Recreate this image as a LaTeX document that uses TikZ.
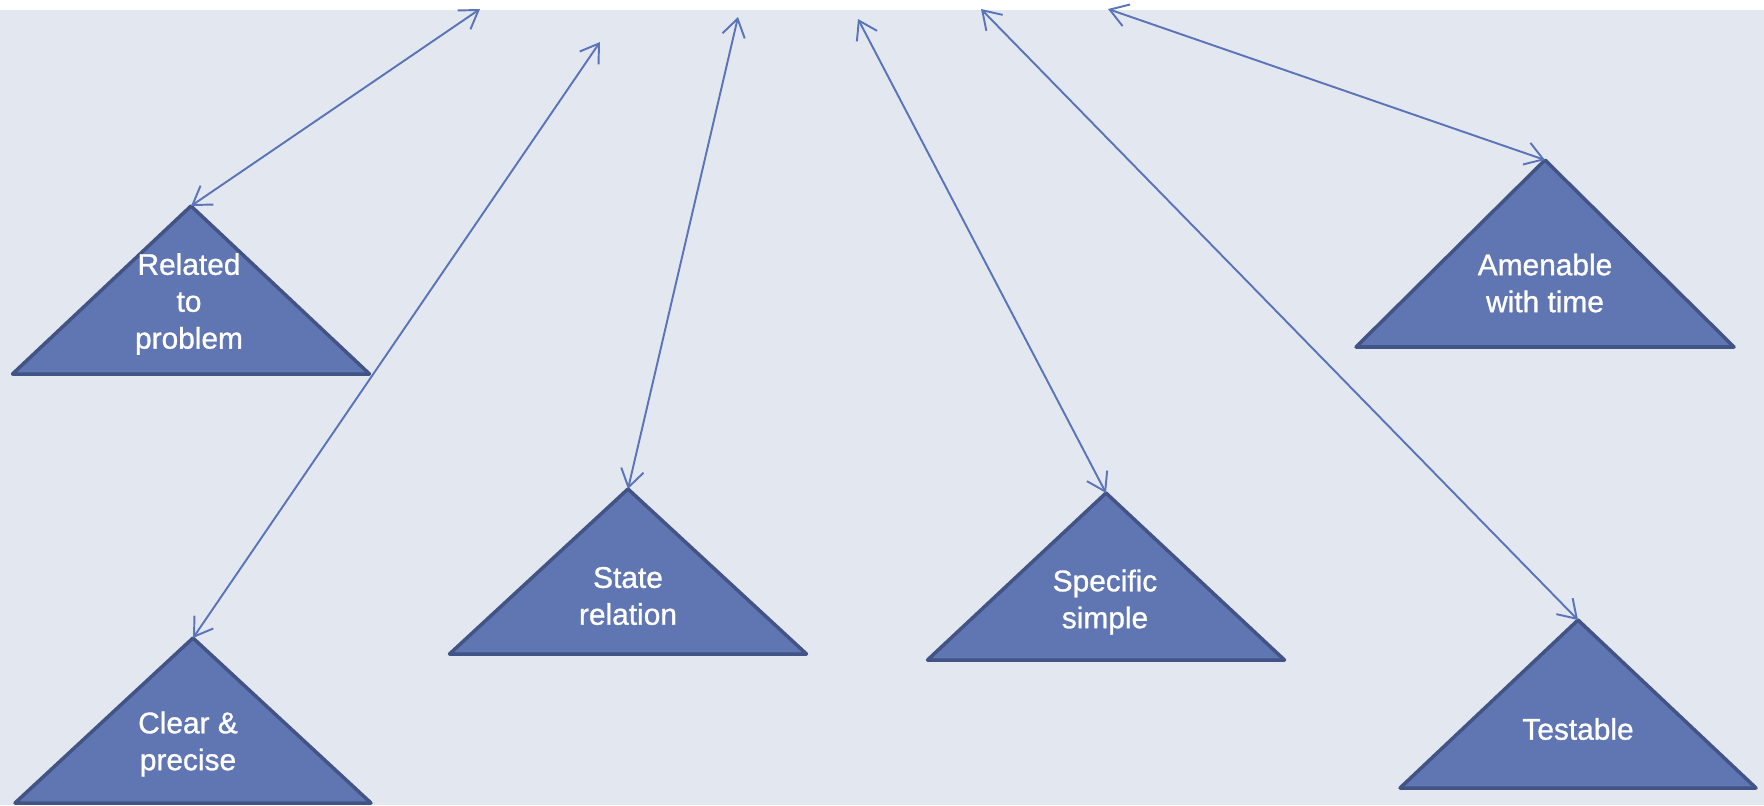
\documentclass[tikz,border=0pt]{standalone}
\usepackage{fontspec}
\setmainfont{Liberation Sans}
\newfontfamily\trifont{Liberation Sans}[FakeBold=1.0]
\usepackage{tikz}
\usetikzlibrary{arrows.meta}

\definecolor{paneback}{RGB}{227,232,240}
\definecolor{trifill}{RGB}{96,118,179}
\definecolor{triedge}{RGB}{66,84,133}
\definecolor{linkblue}{RGB}{91,116,184}

\begin{document}
\begin{tikzpicture}[x=0.02cm,y=-0.02cm,>={Straight Barb[length=10pt,width=13pt]},
    tri/.style={fill=trifill,draw=triedge,line width=2pt,line join=round},
    lbl/.style={text=white,align=center,font=\trifont\fontsize{17}{21}\selectfont},
    link/.style={<->,draw=linkblue,line width=1.1pt}]
  \useasboundingbox (0,0) rectangle (1764,805);
  \fill[paneback] (0,10) rectangle (1764,805);
  % triangles: name / apex x / apex y / half width / height
  \foreach \nm/\ax/\ay/\hw/\h in {rel/191/206/178.5/168, clr/193/638/178/165,
      sta/628/489/178.5/165, spe/1106/493/178.5/167,
      ame/1545/160/189/187, tst/1578/620/178/168}{
    \draw[tri] (\ax,\ay) -- ++(\hw,\h) -- ++(-2*\hw,0) -- cycle;
    \coordinate (\nm) at (\ax,\ay);
  }
  % labels
  \foreach \nm/\tx/\ty/\txt in {rel/189/304/{Related\\to\\problem},
      clr/188/744/{Clear \&\\precise}, sta/628/596/{State\\relation},
      spe/1105/602/{Specific\\simple}, ame/1545/283/{Amenable\\with time},
      tst/1578/729/{Testable}}
    \node[lbl] (\nm-t) at (\tx,\ty) {\txt};
  % free ends at the top
  \foreach \nm/\ex/\ey in {rel/480/9, clr/600/42, sta/738/17,
      spe/858/19, tst/981/9, ame/1108/9}
    \coordinate (\nm-e) at (\ex,\ey);
  \foreach \nm in {rel,clr,sta,spe,tst,ame}
    \draw[link] (\nm) -- (\nm-e);
\end{tikzpicture}
\end{document}
